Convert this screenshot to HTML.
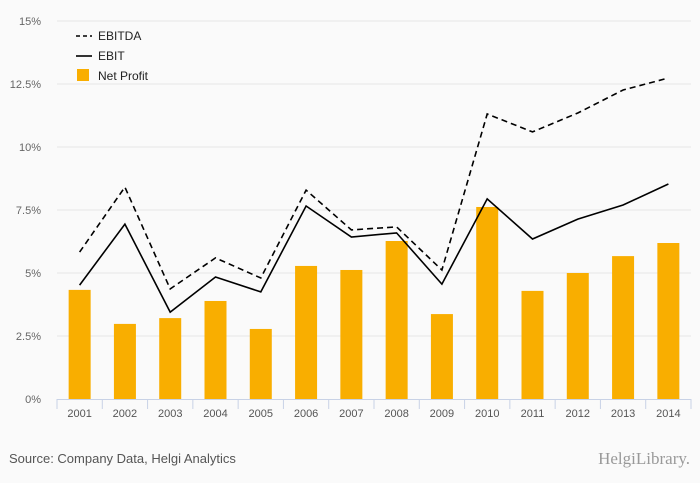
<!DOCTYPE html>
<html><head><meta charset="utf-8"><style>
body{margin:0;background:#fafafa;font-family:"Liberation Sans",sans-serif;}
svg{display:block}
</style></head><body>
<svg id="chart" width="700" height="483" xmlns="http://www.w3.org/2000/svg">
<rect x="0" y="0" width="700" height="483" fill="#fafafa"/>
<g id="grid"></g><g id="bars"></g><g id="lines"></g><g id="axes"></g>
<g font-size="12" fill="#222">
<line x1="76" y1="36" x2="92" y2="36" stroke="#000" stroke-width="1.6" stroke-dasharray="4,3"/>
<text x="98" y="40">EBITDA</text>
<line x1="76" y1="56" x2="92" y2="56" stroke="#000" stroke-width="1.6"/>
<text x="98" y="60">EBIT</text>
<rect x="77" y="69" width="12" height="12" fill="#f9ae00"/>
<text x="98" y="80">Net Profit</text>
</g>
<text x="9" y="463" font-size="13" fill="#555">Source: Company Data, Helgi Analytics</text>
<text x="690" y="464" font-size="17" fill="#999" text-anchor="end" font-family="Liberation Serif, serif">HelgiLibrary.</text>
</svg>
<script>
const years=["2001","2002","2003","2004","2005","2006","2007","2008","2009","2010","2011","2012","2013","2014"];
const netProfit=[4.33,2.98,3.21,3.89,2.78,5.28,5.12,6.27,3.37,7.62,4.29,5.0,5.67,6.19];
const ebitda=[5.83,8.41,4.37,5.6,4.8,8.29,6.71,6.83,5.12,11.31,10.6,11.35,12.26,12.74];
const ebit=[4.52,6.94,3.45,4.84,4.25,7.66,6.43,6.59,4.56,7.94,6.35,7.14,7.7,8.53];
const yTicks=[0,2.5,5,7.5,10,12.5,15];
const yTickLabels=["0%","2.5%","5%","7.5%","10%","12.5%","15%"];
const NS="http://www.w3.org/2000/svg";
const L=57,R=691,T=21,B=399,band=(R-L)/years.length;
const y=v=>B-(v/15)*(B-T);
const x=i=>L+band*(i+0.5);
function mk(tag,attrs,parent){const e=document.createElementNS(NS,tag);for(const k in attrs)e.setAttribute(k,attrs[k]);document.getElementById(parent).appendChild(e);return e;}
yTicks.forEach((t,i)=>{
  if(t>0){const g=mk('line',{x1:L,x2:R,y1:y(t),y2:y(t),stroke:'#e6e6e6','stroke-width':1},'grid');
  
  }
  const tx=mk('text',{x:41,y:y(t)+4,'font-size':11,fill:'#666','text-anchor':'end'},'axes');
  tx.textContent=yTickLabels[i];
  
  
});
netProfit.forEach((v,i)=>{
  const r=mk('rect',{x:x(i)-11,y:y(v),width:22,height:B-y(v),fill:'#f9ae00'},'bars');
  
  
});
const pts=a=>a.map((v,i)=>x(i).toFixed(1)+','+y(v).toFixed(1)).join(' ');
const l1=mk('polyline',{points:pts(ebitda),fill:'none',stroke:'#000','stroke-width':1.6,'stroke-dasharray':'6,4'},'lines');


const l2=mk('polyline',{points:pts(ebit),fill:'none',stroke:'#000','stroke-width':1.6},'lines');


const ax=mk('line',{x1:L,x2:R,y1:B+0.5,y2:B+0.5,stroke:'#c8d2e6','stroke-width':1},'axes');


for(let i=0;i<=years.length;i++){
  const tk=mk('line',{x1:L+band*i,x2:L+band*i,y1:B,y2:B+10,stroke:'#c8d2e6'},'axes');
  
  
}
years.forEach((yr,i)=>{
  const t=mk('text',{x:x(i),y:B+18,'font-size':11,fill:'#555','text-anchor':'middle'},'axes');
  t.textContent=yr;
  
  
});
</script>
</body></html>
